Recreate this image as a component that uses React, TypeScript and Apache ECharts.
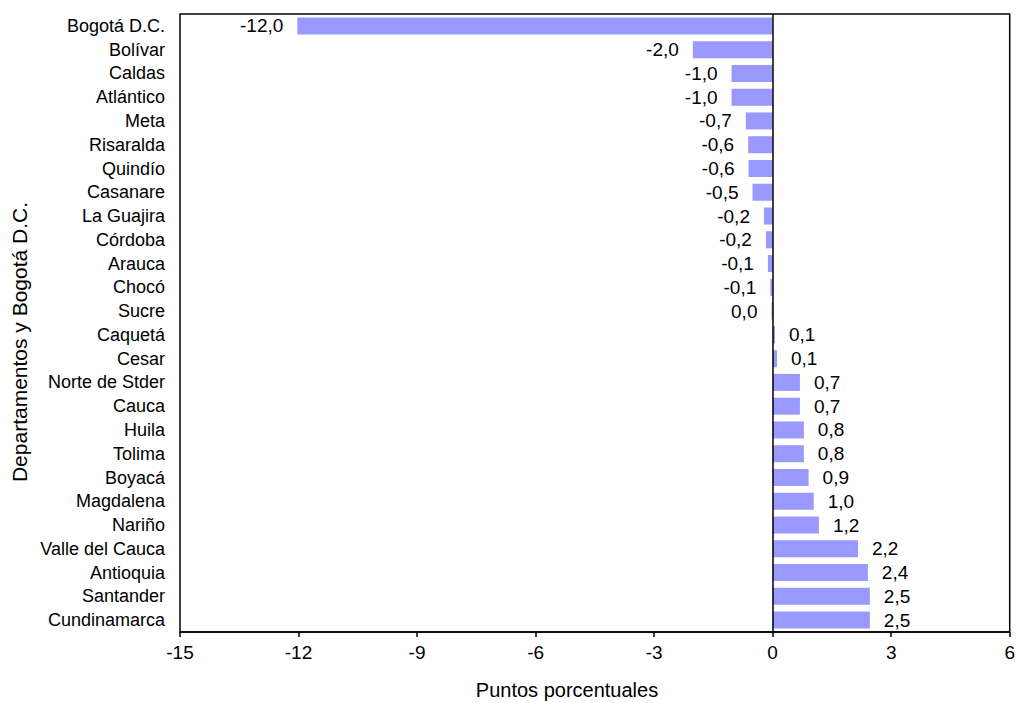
import React, { useEffect, useRef } from "react";
import * as echarts from "echarts";

const categories = [
  "Bogotá D.C.", "Bolívar", "Caldas", "Atlántico", "Meta", "Risaralda", "Quindío",
  "Casanare", "La Guajira", "Córdoba", "Arauca", "Chocó", "Sucre", "Caquetá", "Cesar",
  "Norte de Stder", "Cauca", "Huila", "Tolima", "Boyacá", "Magdalena", "Nariño",
  "Valle del Cauca", "Antioquia", "Santander", "Cundinamarca",
];
const values = [
  -12.03, -2.02, -1.04, -1.04, -0.68, -0.62, -0.61, -0.51, -0.22, -0.17, -0.12, -0.06,
  -0.03, 0.06, 0.11, 0.69, 0.69, 0.79, 0.79, 0.91, 1.04, 1.17, 2.16, 2.41, 2.46, 2.46,
];
const xTicks = { min: -15, max: 6, interval: 3 };
const xTitle = "Puntos porcentuales";
const yTitle = "Departamentos y Bogotá D.C.";

const FONT = "'Liberation Sans', Arial, sans-serif";

function fmt(v: number): string {
  let s = v.toFixed(1);
  if (s === "-0.0") s = "0.0";
  return s.replace(".", ",");
}

export default function App() {
  const ref = useRef<HTMLDivElement>(null);
  useEffect(() => {
    if (!ref.current) return;
    const chart = echarts.init(ref.current, undefined, { renderer: "svg" });
    chart.setOption({
      animation: false,
      backgroundColor: "#ffffff",
      textStyle: { fontFamily: FONT },
      grid: {
        left: 180,
        right: 8,
        top: 14,
        bottom: 71,
        show: true,
        borderColor: "#000",
        borderWidth: 1.5,
        backgroundColor: "transparent",
      },
      xAxis: {
        type: "value",
        min: xTicks.min,
        max: xTicks.max,
        interval: xTicks.interval,
        axisLine: { show: true, onZero: false, lineStyle: { color: "#000", width: 1.5 } },
        axisTick: { show: true, length: 5, lineStyle: { color: "#000", width: 1.5 } },
        splitLine: { show: false },
        axisLabel: { color: "#000", fontSize: 19, fontFamily: FONT, margin: 11 },
      },
      yAxis: {
        type: "category",
        data: categories,
        inverse: true,
        axisLine: { show: false, onZero: false },
        axisTick: { show: false },
        splitLine: { show: false },
        axisLabel: { color: "#000", fontSize: 18, fontFamily: FONT, margin: 15 },
      },
      series: [
        {
          type: "bar",
          barWidth: 17,
          itemStyle: { color: "#9999FF" },
          data: values.map((v) => ({
            value: v,
            label: { position: v < 0 ? "left" : "right" },
          })),
          label: {
            show: true,
            distance: 14,
            color: "#000",
            fontSize: 19,
            fontFamily: FONT,
            formatter: (p: any) => fmt(p.value),
          },
          markLine: {
            silent: true,
            symbol: "none",
            label: { show: false },
            lineStyle: { color: "#000", width: 1.5, type: "solid" },
            data: [{ xAxis: 0 }],
          },
        },
      ],
      graphic: [
        {
          type: "text",
          x: 567,
          y: 690,
          style: {
            text: xTitle,
            font: `20px ${FONT}`,
            fill: "#000",
            align: "center",
            verticalAlign: "middle",
          },
        },
        {
          type: "text",
          x: 19,
          y: 342,
          rotation: Math.PI / 2,
          style: {
            text: yTitle,
            font: `21px ${FONT}`,
            fill: "#000",
            align: "center",
            verticalAlign: "middle",
          },
        },
      ],
    });
    return () => chart.dispose();
  }, []);
  return (
    <div
      ref={ref}
      style={{ position: "fixed", left: 0, top: 0, width: 1018, height: 703 }}
    />
  );
}
